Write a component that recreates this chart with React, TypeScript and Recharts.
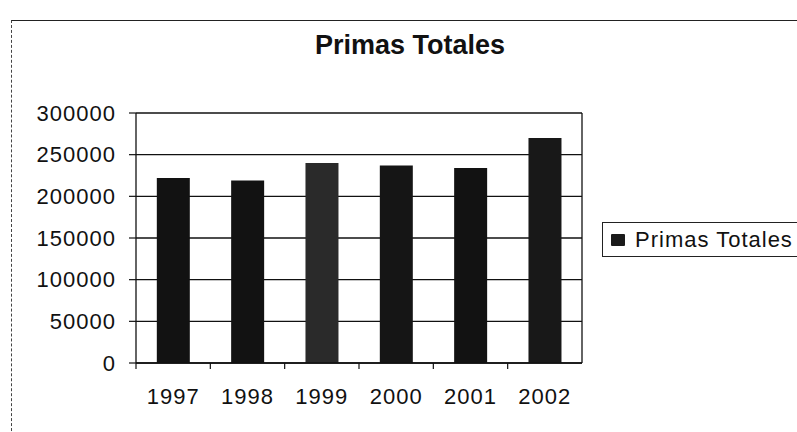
import React from "react";
import { BarChart, Bar, XAxis, YAxis, CartesianGrid, Cell } from "recharts";

const categories = ["1997", "1998", "1999", "2000", "2001", "2002"];
const primasTotales = [222000, 219000, 240000, 237000, 234000, 270000];
const yTicks = [0, 50000, 100000, 150000, 200000, 250000, 300000];
const barColors = ["#121212", "#121212", "#2a2a2a", "#151515", "#121212", "#181818"];
const seriesName = "Primas Totales";

const data = categories.map((year, i) => ({ year, primas: primasTotales[i] }));

const FONT = "'Liberation Sans', Arial, sans-serif";

const XTick = (props: any) => {
  const { x, y, payload, width } = props;
  const w = typeof width === "number" && width > 0 ? width : 446;
  const half = w / categories.length / 2;
  return (
    <g>
      <line x1={x - half} x2={x - half} y1={y} y2={y + 6} stroke="#111" strokeWidth={1.2} />
      <text
        x={x}
        y={y + 33}
        textAnchor="middle"
        dominantBaseline="central"
        fontFamily={FONT}
        fontSize={22}
        letterSpacing={1}
        fill="#111"
      >
        {payload.value}
      </text>
    </g>
  );
};

export default function App() {
  return (
    <div style={{ position: "absolute", left: 0, top: 0, width: 797, height: 432, background: "#fff", overflow: "hidden" }}>
      <div
        style={{
          position: "absolute",
          left: 11,
          top: 20,
          width: 800,
          height: 420,
          borderTop: "1.5px solid #222",
          borderLeft: "1px dashed #444",
        }}
      />
      <div
        style={{
          position: "absolute",
          left: 0,
          width: 820,
          top: 30,
          textAlign: "center",
          fontFamily: FONT,
          fontWeight: "bold",
          fontSize: 27,
          color: "#111",
        }}
      >
        Primas Totales
      </div>
      <div style={{ position: "absolute", left: 0, top: 0 }}>
        <BarChart
          width={797}
          height={432}
          data={data}
          margin={{ top: 113, right: 215, bottom: 29, left: 10 }}
          barCategoryGap="28%"
        >
          <CartesianGrid
            stroke="#111"
            strokeWidth={1.3}
            vertical={true}
            verticalCoordinatesGenerator={({ offset }: any) => [offset.left + offset.width]}
          />
          <XAxis
            dataKey="year"
            axisLine={{ stroke: "#111", strokeWidth: 1.3 }}
            tickLine={false}
            tickSize={0}
            tickMargin={0}
            height={40}
            interval={0}
            tick={<XTick />}
          />
          <YAxis
            domain={[0, 300000]}
            ticks={yTicks}
            width={126}
            axisLine={{ stroke: "#111", strokeWidth: 1.3 }}
            tickLine={{ stroke: "#111", strokeWidth: 1.2 }}
            tickSize={7}
            tickMargin={13}
            tick={{ fontFamily: FONT, fontSize: 22, fill: "#111", letterSpacing: 1 }}
          />
          <Bar dataKey="primas" name={seriesName} isAnimationActive={false}>
            {data.map((d, i) => (
              <Cell key={d.year} fill={barColors[i]} />
            ))}
          </Bar>
        </BarChart>
      </div>
      <div
        style={{
          position: "absolute",
          left: 602,
          top: 222,
          border: "1.2px solid #222",
          width: 220,
          height: 35,
          display: "flex",
          alignItems: "center",
          boxSizing: "border-box",
          paddingLeft: 8,
          fontFamily: FONT,
          fontSize: 22,
          letterSpacing: 1,
          color: "#111",
          whiteSpace: "nowrap",
          background: "#fff",
        }}
      >
        <span
          style={{
            display: "inline-block",
            width: 14,
            height: 12,
            background: "#1a1a1a",
            marginRight: 10,
            borderRadius: 1,
          }}
        />
        <span>{seriesName}</span>
      </div>
    </div>
  );
}
